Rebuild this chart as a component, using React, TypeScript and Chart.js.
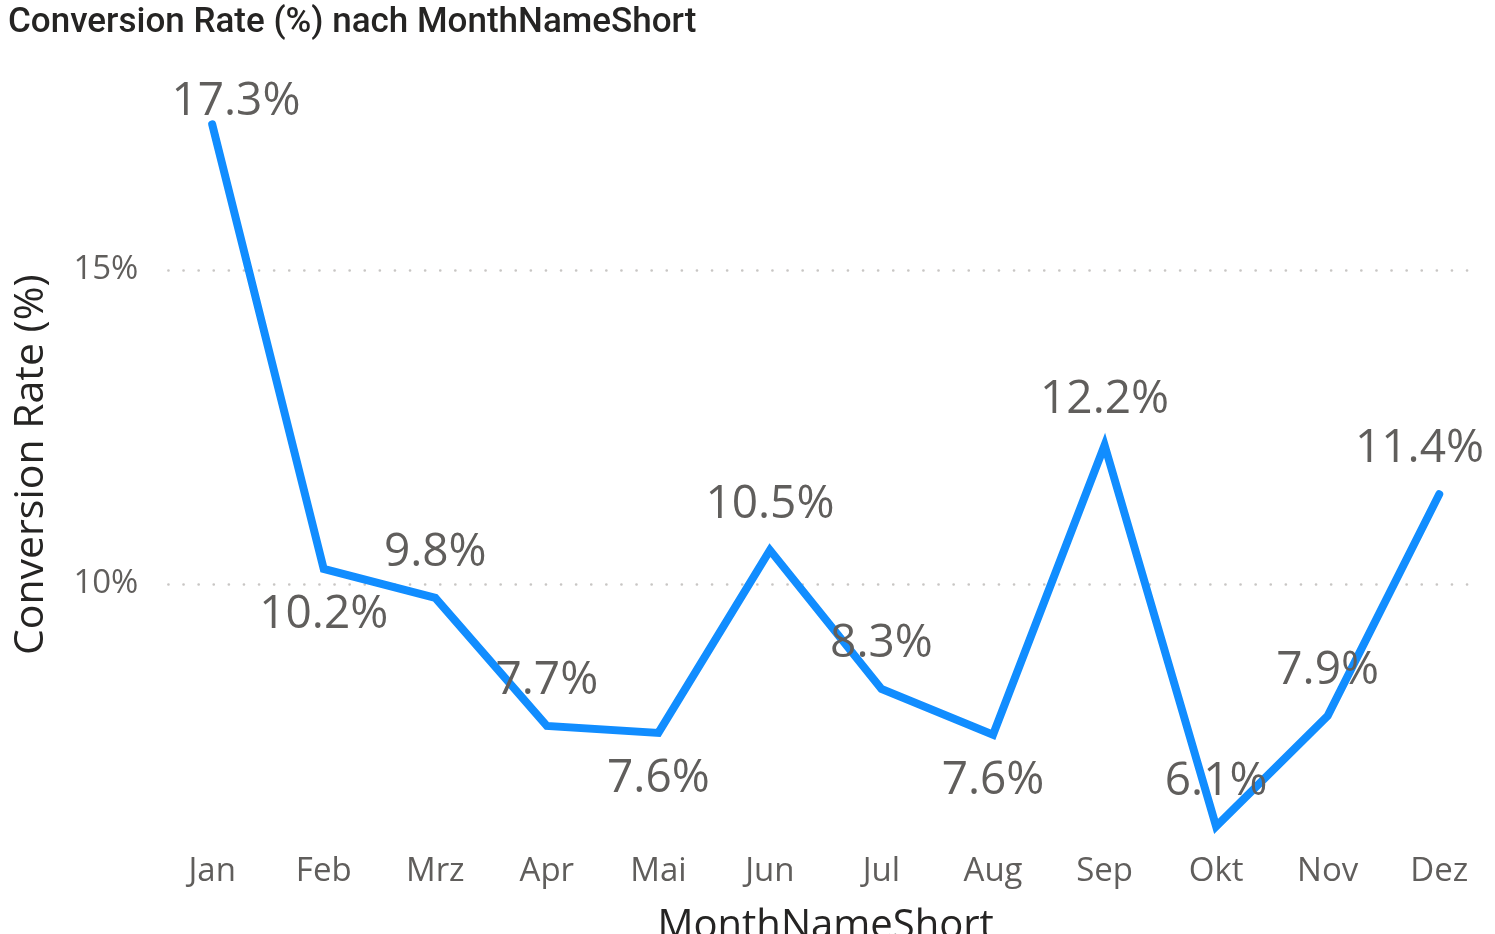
import React, { useEffect, useRef } from "react";
import { Chart, registerables } from "chart.js";

Chart.register(...registerables);

const months = ["Jan", "Feb", "Mrz", "Apr", "Mai", "Jun", "Jul", "Aug", "Sep", "Okt", "Nov", "Dez"];
const conversionRate = [17.32, 10.24, 9.78, 7.74, 7.63, 10.54, 8.33, 7.6, 12.21, 6.14, 7.9, 11.43];
const labelPlacement = ["above", "below", "above", "above", "below", "above", "above", "below", "above", "above", "above", "above"];
const yTicks = [10, 15];
const chartTitle = "Conversion Rate (%) nach MonthNameShort";
const yTitle = "Conversion Rate (%)";
const xTitle = "MonthNameShort";

const W = 1495;
const H = 934;
const BASE_FONT = "'Open Sans', 'Noto Sans', sans-serif";
const LABEL_FONT = "46px " + BASE_FONT;

const decorPlugin = {
  id: "decor",
  beforeDatasetsDraw(chart: any) {
    const { ctx, chartArea, scales } = chart;
    const y = scales.y;
    ctx.save();
    ctx.strokeStyle = "#C8C6C4";
    ctx.lineWidth = 2.6;
    ctx.lineCap = "round";
    ctx.setLineDash([0.1, 15]);
    for (const t of yTicks) {
      const py = Math.round(y.getPixelForValue(t)) + 0.5;
      ctx.beginPath();
      ctx.moveTo(chartArea.left + 12, py);
      ctx.lineTo(chartArea.right - 21, py);
      ctx.stroke();
    }
    ctx.restore();
  },
  afterDatasetsDraw(chart: any) {
    const { ctx, chartArea } = chart;
    const meta = chart.getDatasetMeta(0);
    ctx.save();
    ctx.font = LABEL_FONT;
    ctx.fillStyle = "#605E5C";
    ctx.textAlign = "center";
    ctx.textBaseline = "middle";
    meta.data.forEach((pt: any, i: number) => {
      const text = conversionRate[i].toFixed(1) + "%";
      const w = ctx.measureText(text).width;
      let cx = pt.x;
      const minX = chartArea.left + 15 + w / 2;
      const maxX = chartArea.right - 11 - w / 2;
      if (cx < minX) cx = minX;
      if (cx > maxX) cx = maxX;
      let cy = labelPlacement[i] === "above" ? pt.y - 45 : pt.y + 46;
      if (cy < chartArea.top + 20) cy = chartArea.top + 20;
      ctx.fillText(text, cx, cy);
    });
    // chart title
    ctx.font = "500 35px Roboto, " + BASE_FONT;
    ctx.fillStyle = "#252423";
    ctx.textAlign = "left";
    ctx.textBaseline = "alphabetic";
    ctx.fillText(chartTitle, 8, 32);
    ctx.restore();
  },
};

export default function App() {
  const ref = useRef<HTMLCanvasElement | null>(null);
  useEffect(() => {
    if (!ref.current) return;
    const chart = new Chart(ref.current, {
      type: "line",
      data: {
        labels: months,
        datasets: [
          {
            data: conversionRate,
            borderColor: "#118DFF",
            borderWidth: 8,
            borderCapStyle: "round",
            borderJoinStyle: "miter",
            pointRadius: 0,
            pointHoverRadius: 0,
            fill: false,
            tension: 0,
          },
        ],
      },
      options: {
        animation: false,
        responsive: false,
        devicePixelRatio: 1,
        layout: { padding: { top: 81.6, left: 0, right: 0, bottom: 0 } },
        plugins: {
          legend: { display: false },
          title: { display: false },
          tooltip: { enabled: false },
        },
        scales: {
          x: {
            type: "category",
            offset: true,
            grid: { display: false, drawTicks: false },
            border: { display: false },
            ticks: {
              color: "#605E5C",
              font: { family: BASE_FONT, size: 33 },
              padding: 4,
              maxRotation: 0,
              autoSkip: false,
            },
            title: {
              display: true,
              text: xTitle,
              color: "#252423",
              font: { family: BASE_FONT, size: 40, weight: "500" },
              padding: { top: 0, bottom: -17 },
            },
            afterFit(scale: any) {
              scale.height = H - 847.8;
            },
          },
          y: {
            min: 5.8,
            max: 18,
            grid: { display: false, drawTicks: false },
            border: { display: false },
            ticks: {
              color: "#605E5C",
              font: { family: BASE_FONT, size: 33 },
              padding: 18,
              callback: (v: any) => v + "%",
            },
            afterBuildTicks(scale: any) {
              scale.ticks = yTicks.map((v) => ({ value: v }));
            },
            title: {
              display: true,
              text: yTitle,
              color: "#252423",
              font: { family: BASE_FONT, size: 41, weight: "500" },
              padding: { top: 7, bottom: 0 },
            },
            afterFit(scale: any) {
              scale.width = 156.4;
            },
          },
        },
      },
      plugins: [decorPlugin],
    });
    return () => chart.destroy();
  }, []);
  return (
    <div style={{ position: "fixed", left: 0, top: 0, width: W, height: H, background: "#fff" }}>
      <canvas ref={ref} width={W} height={H} style={{ display: "block", width: W, height: H }} />
    </div>
  );
}
